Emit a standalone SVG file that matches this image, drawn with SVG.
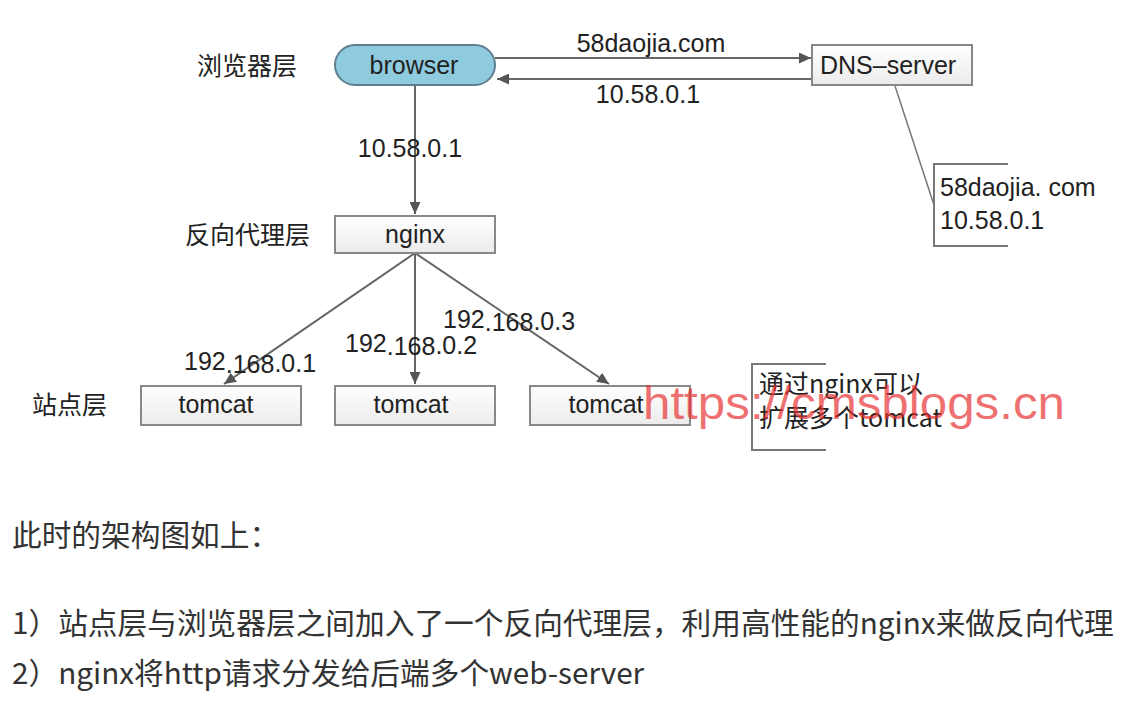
<svg xmlns="http://www.w3.org/2000/svg" width="1138" height="716" viewBox="0 0 1138 716">
<defs>
<linearGradient id="boxg" x1="0" y1="0" x2="0" y2="1">
<stop offset="0" stop-color="#ffffff"/>
<stop offset="1" stop-color="#ebebeb"/>
</linearGradient>
<marker id="arr" viewBox="0 0 12 11" refX="12" refY="5.5" markerWidth="12" markerHeight="11" markerUnits="userSpaceOnUse" orient="auto">
<path d="M0,0 L12,5.5 L0,11 Z" fill="#555"/>
</marker>
<style>
.box{fill:url(#boxg);stroke:#888;stroke-width:2}
.lbl{font-family:"Liberation Sans","Noto Sans CJK SC",sans-serif;font-size:25px;fill:#222}
.cjk{font-family:"Noto Sans CJK SC",sans-serif;font-size:25px;fill:#222}
.ln{stroke:#666;stroke-width:2;fill:none}
.body{font-family:"Noto Sans CJK SC","Liberation Sans",sans-serif;font-size:29.7px;fill:#333}
</style>
</defs>
<rect width="1138" height="716" fill="#fff"/>

<g id="connectors">
<line class="ln" x1="495" y1="58" x2="811" y2="58" marker-end="url(#arr)"/>
<line class="ln" x1="812" y1="79" x2="497" y2="79" marker-end="url(#arr)"/>
<line class="ln" x1="415" y1="85" x2="415" y2="214" marker-end="url(#arr)"/>
<line class="ln" x1="415" y1="253" x2="224" y2="384" marker-end="url(#arr)"/>
<line class="ln" x1="415" y1="253" x2="415" y2="384" marker-end="url(#arr)"/>
<line class="ln" x1="415" y1="253" x2="609" y2="384" marker-end="url(#arr)"/>
<line stroke="#777" stroke-width="1.5" x1="895" y1="86" x2="934" y2="205"/>
<text class="lbl" x="651" y="52" text-anchor="middle">58daojia.com</text>
<text class="lbl" x="648" y="103" text-anchor="middle">10.58.0.1</text>
<text class="lbl" x="410" y="157" text-anchor="middle">10.58.0.1</text>
<text class="lbl" x="184" y="370">192<tspan dy="3">.168</tspan><tspan dy="-1">.0.1</tspan></text>
<text class="lbl" x="345" y="352">192<tspan dy="3">.168</tspan><tspan dy="-1">.0.2</tspan></text>
<text class="lbl" x="443" y="328">192<tspan dy="3">.168</tspan><tspan dy="-1">.0.3</tspan></text>
</g>

<g id="layer-labels">
<text class="cjk" x="197" y="75">浏览器层</text>
<text class="cjk" x="185" y="244">反向代理层</text>
<text class="cjk" x="32" y="414">站点层</text>
</g>

<g id="browser">
<rect x="335" y="45" width="160" height="40" rx="20" ry="20" fill="#8fcbdf" stroke="#5f7f8f" stroke-width="2"/>
<text class="lbl" x="414" y="74" text-anchor="middle" fill="#1e3a4a">browser</text>
</g>

<g id="dns-server">
<rect class="box" x="812" y="45" width="160" height="40"/>
<text class="lbl" x="820" y="74">DNS–server</text>
</g>

<g id="dns-note">
<path d="M1008,164 H934 V246 H1008" fill="none" stroke="#777" stroke-width="2"/>
<text class="lbl" x="940" y="196">58daojia. com</text>
<text class="lbl" x="940" y="229">10.58.0.1</text>
</g>

<g id="nginx">
<rect class="box" x="335" y="216" width="160" height="37"/>
<text class="lbl" x="415" y="243" text-anchor="middle">nginx</text>
</g>

<g id="tomcat1">
<rect class="box" x="141" y="386" width="160" height="39"/>
<text class="lbl" x="216" y="413" text-anchor="middle">tomcat</text>
</g>
<g id="tomcat2">
<rect class="box" x="335" y="386" width="160" height="39"/>
<text class="lbl" x="411" y="413" text-anchor="middle">tomcat</text>
</g>
<g id="tomcat3">
<rect class="box" x="530" y="386" width="160" height="39"/>
<text class="lbl" x="606" y="413" text-anchor="middle">tomcat</text>
</g>

<g id="tomcat-note">
<path d="M826,364 H752 V450 H826" fill="none" stroke="#777" stroke-width="2"/>
<text class="cjk" x="759" y="393">通过nginx可以</text>
<text class="cjk" x="759" y="427">扩展多个tomcat</text>
</g>

<g id="watermark">
<text x="643" y="419" font-family="Liberation Sans,sans-serif" font-size="46" fill="#e83030" fill-opacity="0.7" textLength="422" lengthAdjust="spacingAndGlyphs">https://cmsblogs.cn</text>
</g>

<g id="caption">
<text class="body" x="12" y="546">此时的架构图如上：</text>
<text class="body" x="12" y="634">1）站点层与浏览器层之间加入了一个反向代理层，利用高性能的nginx来做反向代理</text>
<text class="body" x="12" y="684">2）nginx将http请求分发给后端多个web-server</text>
</g>
</svg>
